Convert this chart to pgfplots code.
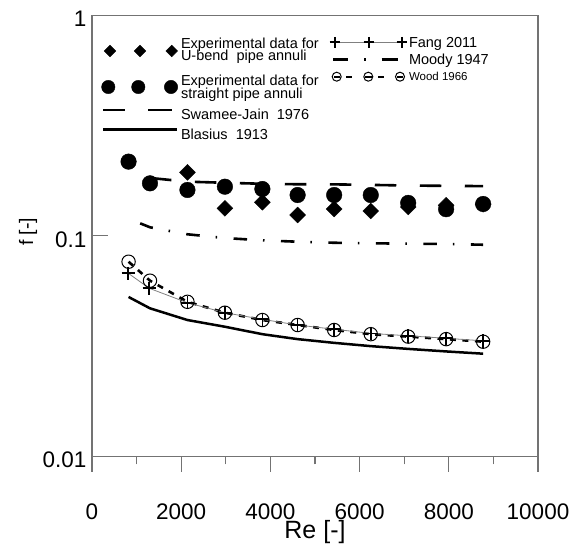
\documentclass[border=0pt]{standalone}
\usepackage{pgfplots}
\pgfplotsset{compat=1.18}
\usepackage{fontspec}
\setmainfont{Liberation Sans}
\definecolor{framegray}{gray}{0.45}
\definecolor{fanggray}{gray}{0.5}
\newcommand{\Ls}[3]{\rule[-#2]{0pt}{\dimexpr#1+#2\relax}\smash{#3}}
\pgfplotsset{
  mylegend/.style={
    draw=none, fill=none, inner sep=0pt, outer sep=0pt,
    anchor=north west, row sep=0pt, column sep=0pt,
    /tikz/every odd column/.style={column sep=0pt},
    /tikz/every even column/.style={column sep=0pt},
    nodes={inner sep=0pt, outer sep=0pt},
    cells={anchor=base west},
    font=\fontsize{14.5}{14.5}\selectfont,
  },
}
\begin{document}
\begin{tikzpicture}
\begin{axis}[
  name=main,
  scale only axis, width=446pt, height=441pt,
  xmin=0, xmax=10000, ymin=0.01, ymax=1, ymode=log,
  xtick={0,2000,4000,6000,8000,10000},
  xticklabels={0,2000,4000,6000,8000,10000},
  minor xtick={1000,3000,5000,7000,9000},
  ytick={0.01,0.1,1}, yticklabels={0.01,0.1,1},
  yminorticks=false,
  xtick pos=bottom, ytick pos=left,
  xtick align=outside, ytick align=inside,
  major tick length=15.5pt, minor tick length=8pt,
  tick style={framegray, line width=1.2pt},
  axis line style={framegray, line width=1.2pt},
  scaled x ticks=false,
  /pgf/number format/assume math mode=true,
  tick label style={font=\fontsize{22.5}{22.5}\selectfont, inner sep=0pt},
  xticklabel style={anchor=base, yshift=-48pt},
  yticklabel style={anchor=east, xshift=-5.5pt, yshift=-3.5pt},
  xlabel={Re [-]},
  xlabel style={font=\fontsize{25}{25}\selectfont, at={(axis description cs:0.5,-0.186)}, anchor=base},
  ylabel={f [-]},
  ylabel style={font=\fontsize{19.5}{19.5}\selectfont, at={(axis description cs:-0.1435,0.509)}, anchor=center},
  legend style={mylegend, at={(axis description cs:0.00897,0.9474)}},
]
% U-bend experimental data
\addplot[only marks, mark=square*, mark size=5.6pt, mark options={rotate=45, black},
  legend image code/.code={
    \path[draw=none, fill=none] (-14pt,0pt) rectangle (71pt,0pt);
    \draw[overlay] plot[only marks, mark=square*, mark size=4.1pt, mark options={rotate=45,black}] coordinates {(0pt,-2.5pt) (30pt,-2.5pt) (61.7pt,-2.5pt)};
  }]
coordinates {(2140,0.194) (2980,0.1332) (3820,0.1419) (4610,0.1243) (5430,0.1323) (6250,0.1296) (7090,0.1351) (7940,0.1375) (8770,0.139)};
\addlegendentry{\Ls{10pt}{3pt}{Experimental data for}}
\addlegendimage{empty legend}
\addlegendentry{\Ls{11pt}{3pt}{U-bend~ pipe annuli}}
% straight experimental data
\addplot[only marks, mark=*, mark size=7.8pt, black,
  legend image code/.code={
    \path[draw=none, fill=none] (-14pt,0pt) rectangle (71pt,0pt);
    \draw[overlay] plot[only marks, mark=*, mark size=6.7pt] coordinates {(-1.7pt,-1pt) (28.3pt,-1pt) (61pt,-1pt)};
  }]
coordinates {(820,0.217) (1300,0.173) (2140,0.1614) (2980,0.167) (3820,0.163) (4610,0.1531) (5430,0.1531) (6250,0.1531) (7090,0.141) (7940,0.132) (8770,0.1394)};
\addlegendentry{\Ls{23.5pt}{3pt}{Experimental data for}}
\addlegendimage{empty legend}
\addlegendentry{\Ls{11pt}{3pt}{straight pipe annuli}}
% Swamee-Jain
\addplot[black, line width=2.6pt, dash pattern=on 21.5pt off 23.5pt,
  legend image code/.code={
    \path[draw=none, fill=none] (-14pt,0pt) rectangle (71pt,0pt);
    \draw[overlay, solid] (-7pt,10pt)--(15pt,10pt) (38pt,10pt)--(62pt,10pt);
  }]
coordinates {(1300,0.183) (2140,0.176) (2980,0.174) (3820,0.1722) (4610,0.1713) (5430,0.1711) (6250,0.1702) (7090,0.169) (7940,0.1685) (8770,0.168)};
\addlegendentry{\Ls{20pt}{3pt}{Swamee-Jain~ 1976}}
% Blasius
\addplot[black, line width=2.5pt,
  legend image code/.code={
    \path[draw=none, fill=none] (-14pt,0pt) rectangle (71pt,0pt);
    \draw[overlay] (-7pt,10.5pt)--(66.7pt,10.5pt);
  }]
coordinates {(820,0.0528) (1300,0.0469) (2140,0.0415) (2980,0.0387) (3820,0.0358) (4610,0.0340) (5430,0.0327) (6250,0.0316) (7090,0.0307) (7940,0.0299) (8770,0.0292)};
\addlegendentry{\Ls{18.5pt}{3pt}{Blasius~ 1913}}
% Moody
\addplot[forget plot, black, line width=2.6pt, dash pattern=on 13.5pt off 16pt on 1.5pt off 16.5pt]
coordinates {(1080,0.1139) (1300,0.1093) (2140,0.1016) (2980,0.0977) (3820,0.0954) (4610,0.0940) (5430,0.0930) (6250,0.0925) (7090,0.0921) (7940,0.0918) (8770,0.0911)};
% Wood
\addplot[forget plot, black, line width=2.6pt, dash pattern=on 6pt off 6.5pt,
  mark=o, mark size=6.7pt, mark options={solid, line width=1pt, fill=none}]
coordinates {(820,0.0763) (1300,0.0626) (2140,0.0502) (2980,0.0448) (3820,0.0415) (4610,0.0394) (5430,0.0374) (6250,0.0358) (7090,0.0349) (7940,0.0340) (8770,0.0331)};
% Fang
\addplot[forget plot, fanggray, line width=0.8pt,
  mark=+, mark size=6.7pt, mark options={solid, black, line width=1.7pt}]
coordinates {(814,0.0676) (1285,0.0578) (2140,0.0497) (2980,0.0448) (3820,0.0418) (4610,0.0394) (5430,0.0377) (6250,0.0361) (7090,0.0352) (7940,0.0343) (8770,0.0334)};
\end{axis}
\begin{axis}[at={(main.south west)}, anchor=south west,
  scale only axis, width=446pt, height=441pt, hide axis,
  xmin=0, xmax=1, ymin=0, ymax=1,
  legend style={mylegend, at={(axis description cs:0.5269,0.9501)}}]
\addlegendimage{legend image code/.code={
   \path[draw=none, fill=none] (-8pt,0pt) rectangle (74pt,0pt);
   \draw[overlay, fanggray, line width=0.8pt] (0pt,5pt)--(67pt,5pt);
   \draw[overlay, black, line width=1.6pt] plot[only marks, mark=+, mark size=5.3pt] coordinates {(0pt,5pt) (34pt,5pt) (67pt,5pt)};
}}
\addlegendentry{\Ls{10pt}{3pt}{Fang 2011}}
\addlegendimage{legend image code/.code={
   \path[draw=none, fill=none] (-8pt,0pt) rectangle (74pt,0pt);
   \draw[overlay, black, line width=2.6pt] (-2pt,5pt)--(13pt,5pt) (29.3pt,5pt)--(30.8pt,5pt) (46.7pt,5pt)--(63.3pt,5pt);
}}
\addlegendentry{\Ls{16pt}{3pt}{Moody 1947}}
\addlegendimage{legend image code/.code={
   \path[draw=none, fill=none] (-8pt,0pt) rectangle (74pt,0pt);
   \draw[overlay, black, line width=1.8pt] (-1pt,4pt)--(4.5pt,4pt) (11pt,4pt)--(17pt,4pt) (30pt,4pt)--(36.5pt,4pt) (43pt,4pt)--(49pt,4pt) (62pt,4pt)--(68pt,4pt);
   \draw[overlay, black, line width=1pt] plot[only marks, mark=o, mark size=4.5pt] coordinates {(1.7pt,4pt) (33.3pt,4pt) (65pt,4pt)};
}}
\addlegendentry{\Ls{14.4pt}{3pt}{\fontsize{11.5}{11.5}\selectfont Wood 1966}}
\end{axis}
\pgfresetboundingbox
\path ([shift={(-92pt,-90.7pt)}]main.south west) rectangle ([shift={(34pt,15.3pt)}]main.north east);
\end{tikzpicture}
\end{document}
